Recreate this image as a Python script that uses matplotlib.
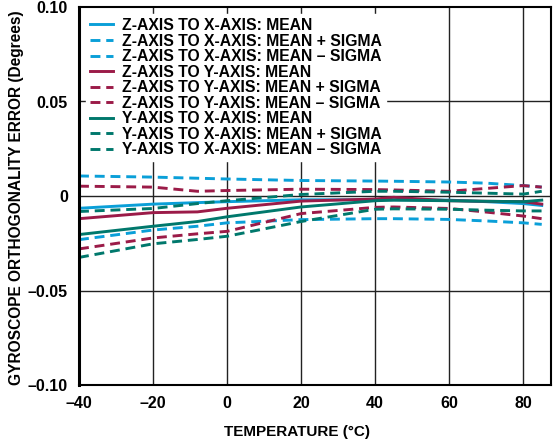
import matplotlib
matplotlib.use("Agg")
import matplotlib.pyplot as plt

plt.rcParams['font.family'] = ['Liberation Sans', 'DejaVu Sans']
plt.rcParams['font.weight'] = 'bold'

temps = [-40, -20, -8, 0, 20, 40, 45, 60, 70, 80, 85]

zx_mean = [-0.0065, -0.0043, -0.0035, -0.0030, -0.0020, -0.0020, -0.0020, -0.0022, -0.0030, -0.0040, -0.0050]
zx_plus = [0.0106, 0.0100, 0.0094, 0.0090, 0.0082, 0.0079, 0.0078, 0.0074, 0.0068, 0.0055, 0.0047]
zx_minus = [-0.0231, -0.0180, -0.0160, -0.0142, -0.0125, -0.0120, -0.0120, -0.0124, -0.0132, -0.0142, -0.0150]

zy_mean = [-0.0120, -0.0088, -0.0084, -0.0065, -0.0027, -0.0016, -0.0007, -0.0025, -0.0028, -0.0030, -0.0043]
zy_plus = [0.0052, 0.0047, 0.0025, 0.0029, 0.0036, 0.0034, 0.0032, 0.0025, 0.0040, 0.0055, 0.0047]
zy_minus = [-0.0280, -0.0222, -0.0200, -0.0187, -0.0093, -0.0060, -0.0058, -0.0066, -0.0085, -0.0106, -0.0120]

yx_mean = [-0.0204, -0.0160, -0.0135, -0.0110, -0.0058, -0.0025, -0.0022, -0.0025, -0.0028, -0.0030, -0.0022]
yx_plus = [-0.0082, -0.0066, -0.0040, -0.0025, 0.0008, 0.0025, 0.0025, 0.0020, 0.0015, 0.0010, 0.0025]
yx_minus = [-0.0325, -0.0253, -0.0230, -0.0213, -0.0135, -0.0070, -0.0068, -0.0070, -0.0075, -0.0079, -0.0079]

series = [
    ("Z-AXIS TO X-AXIS: MEAN", zx_mean, '#0a9fd8', '-'),
    ("Z-AXIS TO X-AXIS: MEAN + SIGMA", zx_plus, '#0a9fd8', '--'),
    ("Z-AXIS TO X-AXIS: MEAN \u2013 SIGMA", zx_minus, '#0a9fd8', '--'),
    ("Z-AXIS TO Y-AXIS: MEAN", zy_mean, '#9b1b48', '-'),
    ("Z-AXIS TO Y-AXIS: MEAN + SIGMA", zy_plus, '#9b1b48', '--'),
    ("Z-AXIS TO Y-AXIS: MEAN \u2013 SIGMA", zy_minus, '#9b1b48', '--'),
    ("Y-AXIS TO X-AXIS: MEAN", yx_mean, '#00786c', '-'),
    ("Y-AXIS TO X-AXIS: MEAN + SIGMA", yx_plus, '#00786c', '--'),
    ("Y-AXIS TO X-AXIS: MEAN \u2013 SIGMA", yx_minus, '#00786c', '--'),
]

xticks = [-40, -20, 0, 20, 40, 60, 80]
xticklabels = ["\u201340", "\u201320", "0", "20", "40", "60", "80"]
yticks = [-0.10, -0.05, 0, 0.05, 0.10]
yticklabels = ["\u20130.10", "\u20130.05", "0", "0.05", "0.10"]

fig = plt.figure(figsize=(5.54, 4.44), dpi=100)
ax = fig.add_axes([79 / 554, 1 - 385 / 444, 472 / 554, 378 / 444])

for label, vals, color, ls in series:
    ax.plot(temps, vals, color=color, linestyle=ls, linewidth=2.1,
            dashes=(3.4, 2) if ls == '--' else (None, None), label=label)

ax.set_xlim(-40, 87.5)
ax.set_ylim(-0.10, 0.10)
ax.set_xticks(xticks)
ax.set_xticklabels(xticklabels, fontsize=11.5, fontweight='bold')
ax.set_yticks(yticks)
ax.set_yticklabels(yticklabels, fontsize=11.5, fontweight='bold')
ax.tick_params(axis='y', length=0, pad=8)
ax.tick_params(axis='x', length=0, pad=8)
for x in xticks[1:]:
    ax.axvline(x, color='#222222', linewidth=1.0, zorder=0)
for y in [-0.05, 0, 0.05]:
    ax.axhline(y, color='#222222', linewidth=1.0, zorder=0)
for s in ax.spines.values():
    s.set_linewidth(1.5)
ax.spines['left'].set_linewidth(2.2)

leg = ax.legend(loc='upper left', frameon=True, fancybox=False,
                handlelength=1.45, handletextpad=0.6, labelspacing=0.035,
                borderaxespad=0.45, borderpad=0.25,
                prop={'weight': 'bold', 'size': 11.3})
leg.get_frame().set_edgecolor('white')
leg.get_frame().set_facecolor('white')
leg.get_frame().set_alpha(1.0)

ax.set_xlabel("TEMPERATURE (\u00b0C)", fontsize=11, fontweight='bold')
ax.xaxis.set_label_coords((297 - 79) / 472, -(432 - 385) / 378, transform=ax.transAxes)
ax.xaxis.label.set_va('center')
ax.set_ylabel("GYROSCOPE ORTHOGONALITY ERROR (Degrees)", fontsize=11.2, fontweight='bold')
ax.yaxis.set_label_coords(-(79 - 17) / 472, (385 - 198) / 378, transform=ax.transAxes)
ax.yaxis.label.set_va('center')

fig.savefig("out.png", dpi=100)
